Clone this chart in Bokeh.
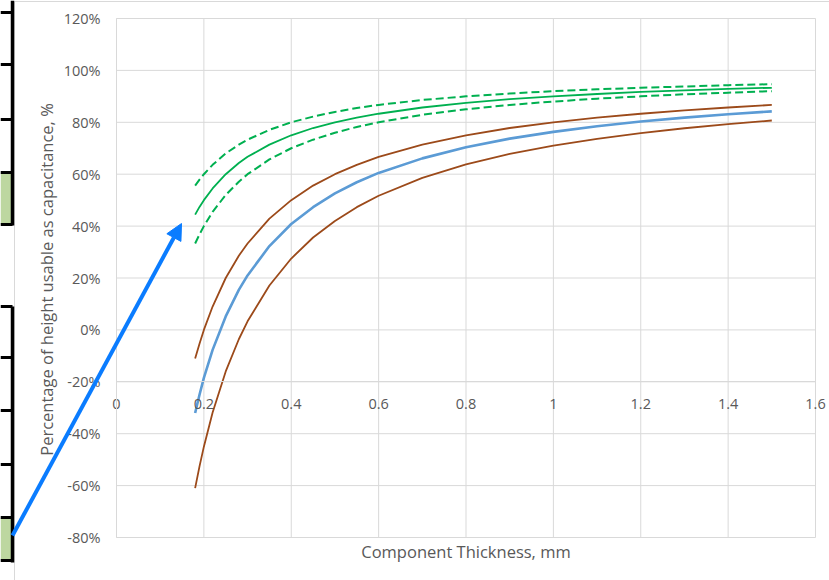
from bokeh.plotting import figure
from bokeh.models import Range1d, FixedTicker, Label, Arrow, NormalHead
from bokeh.embed import file_html
from bokeh.resources import INLINE

# ---- data ----
thickness = [0.18, 0.19, 0.2, 0.22, 0.25, 0.28, 0.3, 0.35, 0.4, 0.45, 0.5, 0.55, 0.6, 0.7, 0.8,
             0.9, 1.0, 1.1, 1.2, 1.3, 1.4, 1.5]
blue_mid = [-32, -25, -18.5, -7.7, 5.2, 15.4, 21, 32.3, 40.8, 47.3, 52.6, 56.9, 60.5, 66.1, 70.4,
            73.7, 76.3, 78.5, 80.3, 81.8, 83.1, 84.2]
brown_upper = [-11, -5.3, 0, 9, 20, 28.6, 33.3, 42.9, 50, 55.6, 60, 63.6, 66.7, 71.4, 75,
               77.8, 80, 81.8, 83.3, 84.6, 85.7, 86.7]
brown_lower = [-61, -52.6, -45, -31.8, -16, -3.6, 3.3, 17.1, 27.5, 35.6, 42, 47.3, 51.7, 58.6, 63.8,
               67.8, 71, 73.6, 75.8, 77.7, 79.3, 80.7]
green_mid = [44.4, 47.4, 50, 54.5, 60, 64.3, 66.7, 71.4, 75, 77.8, 80, 81.8, 83.3, 85.7, 87.5,
             88.9, 90, 90.9, 91.7, 92.3, 92.9, 93.3]
green_upper = [55.6, 57.9, 60, 63.6, 68, 71.4, 73.3, 77.1, 80, 82.2, 84, 85.5, 86.7, 88.6, 90,
               91.1, 92, 92.7, 93.3, 93.8, 94.3, 94.7]
green_lower = [33.3, 36.8, 40, 45.5, 52, 57.1, 60, 65.7, 70, 73.3, 76, 78.2, 80, 82.9, 85,
               86.7, 88, 89.1, 90, 90.8, 91.4, 92]

x_ticks = [0, 0.2, 0.4, 0.6, 0.8, 1.0, 1.2, 1.4, 1.6]
x_tick_labels = ["0", "0.2", "0.4", "0.6", "0.8", "1", "1.2", "1.4", "1.6"]
y_ticks = [-80, -60, -40, -20, 0, 20, 40, 60, 80, 100, 120]
y_tick_labels = ["-80%", "-60%", "-40%", "-20%", "0%", "20%", "40%", "60%", "80%", "100%", "120%"]

x_title = "Component Thickness, mm"
y_title = "Percentage of height usable as capacitance, %"

FONT = "Open Sans"
GRID = "#d9d9d9"
TXT = "#595959"

W, H = 829, 580
x_px0, x_scale = 116.0, 699.0 / 1.6
y_px0, y_scale = 329.4, 519.0 / 200.0

p = figure(width=W, height=H, output_backend="svg", toolbar_location=None,
           x_range=Range1d(-x_px0 / x_scale, (W - x_px0) / x_scale),
           y_range=Range1d((y_px0 - H) / y_scale, y_px0 / y_scale),
           min_border=0, background_fill_color="white", border_fill_color="white")
p.outline_line_color = None
p.grid.visible = False
p.extra_x_ranges = {"px": Range1d(0, W)}
p.extra_y_ranges = {"px": Range1d(H, 0)}

# gridlines from tick lists
p.segment(x0=x_ticks, x1=x_ticks, y0=[min(y_ticks)] * len(x_ticks), y1=[max(y_ticks)] * len(x_ticks),
          line_color=GRID, line_width=1)
p.segment(x0=[min(x_ticks)] * len(y_ticks), x1=[max(x_ticks)] * len(y_ticks), y0=y_ticks, y1=y_ticks,
          line_color=GRID, line_width=1)

# axes
xa = p.xaxis[0]
xa.fixed_location = -20
xa.ticker = FixedTicker(ticks=x_ticks)
xa.major_label_overrides = {t: l for t, l in zip(x_ticks, x_tick_labels)}
xa.bounds = (min(x_ticks), max(x_ticks))
ya = p.yaxis[0]
ya.fixed_location = 0
ya.ticker = FixedTicker(ticks=y_ticks)
ya.major_label_overrides = {t: l for t, l in zip(y_ticks, y_tick_labels)}
ya.bounds = (min(y_ticks), max(y_ticks))
for ax in (xa, ya):
    ax.axis_line_color = GRID
    ax.major_tick_line_color = None
    ax.minor_tick_line_color = None
    ax.major_tick_out = 0
    ax.major_tick_in = 0
    ax.major_label_text_font = FONT
    ax.major_label_text_font_size = "14.5px"
    ax.major_label_text_color = TXT
xa.major_label_standoff = 17
ya.major_label_standoff = 16

# series
p.line(thickness, green_upper, line_color="#00B050", line_width=2, line_dash="8 4")
p.line(thickness, green_lower, line_color="#00B050", line_width=2, line_dash="8 4")
p.line(thickness, green_mid, line_color="#00B050", line_width=1.8)
p.line(thickness, brown_upper, line_color="#9C4A1A", line_width=1.8)
p.line(thickness, brown_lower, line_color="#9C4A1A", line_width=1.8)
p.line(thickness, blue_mid, line_color="#5B9BD5", line_width=2.6)

# axis titles
p.add_layout(Label(x=0.8, y=-85.5, text=x_title, text_align="center", text_baseline="middle",
                   text_font=FONT, text_font_size="16.5px", text_color=TXT))
p.add_layout(Label(x=46, y=279, x_range_name="px", y_range_name="px", text=y_title, angle=90,
                   angle_units="deg", text_align="center", text_baseline="middle",
                   text_font=FONT, text_font_size="16.5px", text_color=TXT))

# surrounding spreadsheet decoration (pixel space)
p.segment(x0=[14, 14], y0=[1, 1], x1=[14, W], y1=[H, 1], x_range_name="px", y_range_name="px",
          line_color="#d9d9d9", line_width=1)
p.quad(left=[0, 0], right=[12, 12], top=[172, 517], bottom=[224, 560], x_range_name="px",
       y_range_name="px", fill_color="#BDD7A0", line_color=None)
p.segment(x0=[12, 12], y0=[0, 306], x1=[12, 12], y1=[225, 562], x_range_name="px", y_range_name="px",
          line_color="black", line_width=3.5)
hy = [12, 64, 119, 172, 224, 306, 357, 410, 464, 517, 560]
p.segment(x0=[0] * len(hy), x1=[12] * len(hy), y0=hy, y1=hy, x_range_name="px", y_range_name="px",
          line_color="black", line_width=3)

p.add_layout(Arrow(x_start=12, y_start=535, x_end=181, y_end=223, x_range_name="px", y_range_name="px",
                   line_color="#0A7CFF", line_width=4,
                   end=NormalHead(size=16, fill_color="#0A7CFF", line_color="#0A7CFF")))

open("out.html", "w").write(file_html(p, INLINE))
